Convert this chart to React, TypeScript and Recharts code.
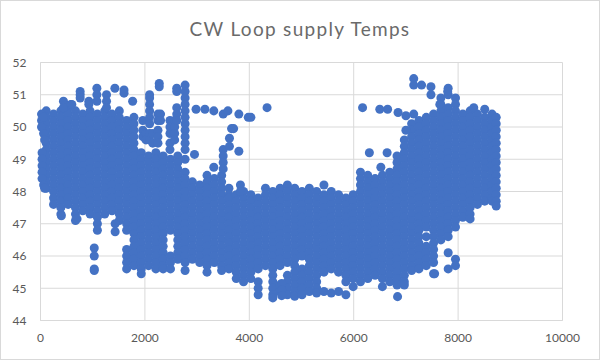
import React from "react";
import { ScatterChart, Scatter, XAxis, YAxis, ZAxis, CartesianGrid } from "recharts";

const TITLE = "CW Loop supply Temps";
const xTicks = [0, 2000, 4000, 6000, 8000, 10000];
const yTicks = [44, 45, 46, 47, 48, 49, 50, 51, 52];

// Hours sampled across the year, one column of readings per entry.
const columnX = [
  110, 250, 390, 530, 670, 810, 950, 1090, 1230, 1370, 1510, 1650, 1790, 1930, 2070, 2210, 2350, 2490, 2630, 2770,
  2910, 3050, 3190, 3330, 3470, 3610, 3750, 3890, 4030, 4170, 4310, 4450, 4590, 4730, 4870, 5010, 5150, 5290, 5430,
  5570, 5710, 5850, 5990, 6130, 6270, 6410, 6550, 6690, 6830, 6970, 7110, 7250, 7390, 7530, 7670, 7810, 7950, 8090,
  8230, 8370, 8510, 8650, 8730,
];

const columnY = [
  [50.5, 50.3, 50.1, 49.9, 49.7, 49.5, 49.3, 49.1, 48.9, 48.7, 48.5, 48.3, 48.1],
  [50.4, 50.2, 50, 49.8, 49.6, 49.4, 49.2, 49, 48.8, 48.6, 48.4, 48.2, 48, 47.8, 47.6],
  [50.5, 50.3, 50.1, 49.9, 49.7, 49.5, 49.3, 49.1, 48.9, 48.7, 48.5, 48.3, 48.1, 47.9, 47.7, 47.5, 47.3],
  [50.6, 50.4, 50.2, 50, 49.8, 49.6, 49.4, 49.2, 49, 48.8, 48.6, 48.4, 48.2, 48, 47.8, 47.6],
  [50.5, 50.3, 50.1, 49.9, 49.7, 49.5, 49.3, 49.1, 48.9, 48.7, 48.5, 48.3, 48.1, 47.9, 47.7, 47.5, 47.3, 47.1],
  [50.4, 50.2, 50, 49.8, 49.6, 49.4, 49.2, 49, 48.8, 48.6, 48.4, 48.2, 48, 47.8, 47.6, 47.4],
  [50.5, 50.3, 50.1, 49.9, 49.7, 49.5, 49.3, 49.1, 48.9, 48.7, 48.5, 48.3, 48.1, 47.9, 47.7, 47.5, 47.3],
  [50.4, 50.2, 50, 49.8, 49.6, 49.4, 49.2, 49, 48.8, 48.6, 48.4, 48.2, 48, 47.8, 47.6, 47.4, 47.2, 47, 46.8],
  [50.5, 50.3, 50.1, 49.9, 49.7, 49.5, 49.3, 49.1, 48.9, 48.7, 48.5, 48.3, 48.1, 47.9, 47.7, 47.5, 47.3],
  [50.4, 50.2, 50, 49.8, 49.6, 49.4, 49.2, 49, 48.8, 48.6, 48.4, 48.2, 48, 47.8, 47.6, 47.4],
  [50.5, 50.3, 50.1, 49.9, 49.7, 49.5, 49.3, 49.1, 48.9, 48.7, 48.5, 48.3, 48.1, 47.9, 47.7, 47.5, 47.3, 47.1],
  [50.2, 50, 49.8, 49.6, 49.4, 49.2, 49, 48.8, 48.6, 48.4, 48.2, 48, 47.8, 47.6, 47.4, 47.2, 47, 46.8, 46.2, 46, 45.8, 45.6],
  [50.3, 50.1, 49.9, 49.7, 49.5, 49.3, 49.1, 48.9, 48.7, 48.5, 48.3, 48.1, 47.9, 47.7, 47.5, 47.3, 47.1, 46.9, 46.7, 46.5, 46.3, 46.1, 45.9, 45.7],
  [49.2, 49, 48.8, 48.6, 48.4, 48.2, 48, 47.8, 47.6, 47.4, 47.2, 47, 46.8, 46.6, 46.4, 46.2, 46, 45.8, 45.6, 45.45],
  [49.1, 48.9, 48.7, 48.5, 48.3, 48.1, 47.9, 47.7, 47.5, 47.3, 47.1, 46.9, 46.7, 46.5, 46.3, 46.1, 45.9, 45.7],
  [49.2, 49, 48.8, 48.6, 48.4, 48.2, 48, 47.8, 47.6, 47.4, 47.2, 47, 46.8, 46.6, 46.4, 46.2, 46, 45.8, 45.6],
  [49.1, 48.9, 48.7, 48.5, 48.3, 48.1, 47.9, 47.7, 47.5, 47.3, 47.1, 46.9, 46.7, 46.5, 46.3, 46.1, 45.9, 45.7, 45.6],
  [49, 48.8, 48.6, 48.4, 48.2, 48, 47.8, 47.6, 47.4, 47.2, 47, 46.8, 46, 45.8, 45.6],
  [49.1, 48.9, 48.7, 48.5, 48.3, 48.1, 47.9, 47.7, 47.5, 47.3, 47.1, 46.9, 46.7, 46.5, 46.3, 46.1, 45.9],
  [48.6, 48.4, 48.2, 48, 47.8, 47.6, 47.4, 47.2, 47, 46.8, 46.6, 46.4, 46.2, 46, 45.8, 45.55],
  [48.3, 48.1, 47.9, 47.7, 47.5, 47.3, 47.1, 46.9, 46.7, 46.5, 46.3, 46.1, 45.9],
  [48.2, 48, 47.8, 47.6, 47.4, 47.2, 47, 46.8, 46.6, 46.4, 46.2, 46, 45.8],
  [48.5, 48.3, 48.1, 47.9, 47.7, 47.5, 47.3, 47.1, 46.9, 46.7, 46.5, 46.3, 46.1, 45.9, 45.7, 45.5],
  [48.4, 48.2, 48, 47.8, 47.6, 47.4, 47.2, 47, 46.8, 46.6, 46.4, 46.2, 46, 45.8],
  [48.5, 48.3, 48.1, 47.9, 47.7, 47.5, 47.3, 47.1, 46.9, 46.7, 46.5, 46.3, 46.1, 45.9, 45.7, 45.55],
  [48.1, 47.9, 47.8, 47.6, 47.4, 47.2, 47, 46.8, 46.6, 46.4, 46.2, 46, 45.8, 45.6],
  [47.9, 47.7, 47.5, 47.3, 47.1, 46.9, 46.7, 46.5, 46.3, 46.1, 45.9, 45.7, 45.5, 45.3],
  [48, 47.8, 47.6, 47.4, 47.2, 47, 46.8, 46.6, 46.4, 46.2, 46, 45.8, 45.6, 45.4, 45.2],
  [47.9, 47.7, 47.5, 47.3, 47.1, 46.9, 46.7, 46.5, 46.3, 46.1, 45.9, 45.7, 45.5, 45.3],
  [47.8, 47.6, 47.4, 47.2, 47, 46.8, 46.6, 46.4, 46.2, 46, 45.8, 45.6, 45.2, 45, 44.8],
  [48.1, 47.9, 47.7, 47.5, 47.3, 47.1, 46.9, 46.7, 46.5, 46.3, 46.1, 45.9, 45.7],
  [48, 47.8, 47.6, 47.4, 47.2, 47, 46.8, 46.6, 46.4, 46.2, 46, 45.8, 45.6, 45.4, 45.2, 45, 44.8, 44.7],
  [48.1, 47.9, 47.7, 47.5, 47.3, 47.1, 46.9, 46.7, 46.5, 46.3, 46.1, 45.9, 45.7, 45.1, 44.9],
  [48.2, 48, 47.8, 47.6, 47.4, 47.2, 47, 46.8, 46.6, 46.4, 46.2, 46, 45.8, 45.4, 45.2, 45, 44.8],
  [48.1, 47.9, 47.7, 47.5, 47.3, 47.1, 46.9, 46.7, 46.5, 46.3, 46.1, 45.9, 45.7, 45.5, 45.3, 45.1, 44.9, 44.75],
  [48, 47.8, 47.6, 47.4, 47.2, 47, 46.8, 46.6, 46.4, 46.2, 46, 45.6, 45.4, 45.2, 45, 44.8],
  [48.1, 47.9, 47.7, 47.5, 47.3, 47.1, 46.9, 46.7, 46.5, 46.3, 46.1, 45.9, 45.7, 45.5, 45.3, 45.1, 44.9],
  [48, 47.8, 47.6, 47.4, 47.2, 47, 46.8, 46.6, 46.4, 46.2, 46, 45.8, 45.6, 45.4, 45.2, 45, 44.85],
  [48.2, 47.9, 47.7, 47.5, 47.3, 47.1, 46.9, 46.7, 46.5, 46.3, 46.1, 45.9, 45.7, 45.5, 44.9],
  [48, 47.8, 47.6, 47.4, 47.2, 47, 46.8, 46.6, 46.4, 46.2, 46, 45.8, 45.6, 44.85],
  [47.9, 47.7, 47.5, 47.3, 47.1, 46.9, 46.7, 46.5, 46.3, 46.1, 45.9, 45.7, 45.5, 44.9],
  [47.8, 47.6, 47.4, 47.2, 47, 46.8, 46.6, 46.4, 46.2, 46, 45.8, 45.6, 45.4, 45.2, 44.8],
  [47.9, 47.7, 47.5, 47.3, 47.1, 46.9, 46.7, 46.5, 46.3, 46.1, 45.9, 45.7, 45.5, 45.3, 45.05],
  [48.6, 48.4, 48.2, 48, 47.8, 47.6, 47.4, 47.2, 47, 46.8, 46.6, 46.4, 46.2, 46, 45.8, 45.6, 45.4, 45.2],
  [48.5, 48.3, 48.1, 47.9, 47.7, 47.5, 47.3, 47.1, 46.9, 46.7, 46.5, 46.3, 46.1, 45.9, 45.7, 45.5, 45.3],
  [48.4, 48.2, 48, 47.8, 47.6, 47.4, 47.2, 47, 46.8, 46.6, 46.4, 46.2, 46, 45.8, 45.6, 45.4],
  [48.5, 48.3, 48.1, 47.9, 47.7, 47.5, 47.3, 47.1, 46.9, 46.7, 46.5, 46.3, 46.1, 45.9, 45.7, 45.5, 45.3, 45.05],
  [48.6, 48.4, 48.2, 48, 47.8, 47.6, 47.4, 47.2, 47, 46.8, 46.6, 46.4, 46.2, 46, 45.8, 45.6, 45.4, 45.2],
  [49.1, 48.9, 48.7, 48.5, 48.3, 48.1, 47.9, 47.7, 47.5, 47.3, 47.1, 46.9, 46.7, 46.5, 46.3, 46.1, 45.9, 45.7, 45.5, 45.3, 45.1],
  [49.6, 49.4, 49.2, 49, 48.8, 48.6, 48.4, 48.2, 48, 47.8, 47.6, 47.4, 47.2, 47, 46.8, 46.6, 46.4, 46.2, 46, 45.8, 45.6, 45.4, 45.2, 45.1],
  [50.1, 49.9, 49.7, 49.5, 49.3, 49.1, 48.9, 48.7, 48.5, 48.3, 48.1, 47.9, 47.7, 47.5, 47.3, 47.1, 46.9, 46.7, 46.5, 46.3, 46.1, 45.9, 45.7, 45.55],
  [50.2, 50, 49.8, 49.6, 49.4, 49.2, 49, 48.8, 48.6, 48.4, 48.2, 48, 47.8, 47.6, 47.4, 47.2, 47, 46.8, 46.6, 46.4, 46.2, 46, 45.8, 45.6],
  [50.3, 50.1, 49.9, 49.7, 49.5, 49.3, 49.1, 48.9, 48.7, 48.5, 48.3, 48.1, 47.9, 47.7, 47.5, 47.3, 47.1, 46.9, 46.6, 46.3, 46.1, 45.9, 45.7],
  [50.4, 50.2, 50, 49.8, 49.6, 49.4, 49.2, 49, 48.8, 48.6, 48.4, 48.2, 48, 47.8, 47.6, 47.4, 47.2, 47, 46.8, 46.6, 46.4, 46.2, 46, 45.8, 45.45],
  [50.9, 50.7, 50.5, 50.3, 50.1, 49.9, 49.7, 49.5, 49.3, 49.1, 48.9, 48.7, 48.5, 48.3, 48.1, 47.9, 47.7, 47.5, 47.3, 47.1, 46.9, 46.7, 46.5],
  [51.2, 51, 50.6, 50.4, 50.2, 50, 49.8, 49.6, 49.4, 49.2, 49, 48.8, 48.6, 48.4, 48.2, 48, 47.8, 47.6, 47.4, 47.2, 47, 46.8, 46.6, 46.1, 45.6],
  [50.9, 50.7, 50.5, 50.3, 50.1, 49.9, 49.7, 49.5, 49.3, 49.1, 48.9, 48.7, 48.5, 48.3, 48.1, 47.9, 47.7, 47.5, 47.3, 47.1, 46.9, 45.9, 45.7],
  [50.4, 50.2, 50, 49.8, 49.6, 49.4, 49.2, 49, 48.8, 48.6, 48.4, 48.2, 48, 47.8, 47.6, 47.4, 47.2],
  [50.5, 50.3, 50.1, 49.9, 49.7, 49.5, 49.3, 49.1, 48.9, 48.7, 48.5, 48.3, 48.1, 47.9, 47.7, 47.5, 47.3, 47.15],
  [50.4, 50.2, 50, 49.8, 49.6, 49.4, 49.2, 49, 48.8, 48.6, 48.4, 48.2, 48, 47.8, 47.6],
  [50.55, 50.3, 50.1, 49.9, 49.7, 49.5, 49.3, 49.1, 48.9, 48.7, 48.5, 48.3, 48.1, 47.9, 47.7],
  [50.4, 50.2, 50, 49.8, 49.6, 49.4, 49.2, 49, 48.8, 48.6, 48.4, 48.2, 48, 47.8, 47.7],
  [50.3, 50.1, 49.9, 49.7, 49.5, 49.3, 49.1, 48.9, 48.7, 48.5, 48.3, 48.1, 47.9, 47.7, 47.55],
];

// Readings that stand apart from the main mass, plus the edges of the mass.
const strayX = [
  20, 20, 20, 30, 30, 30, 30, 30, 60, 60, 60, 80, 80, 440, 440, 400, 580, 600, 700,
  760, 760, 760, 926, 926, 1030, 1030, 1030, 1030, 1080, 1080, 1080, 1265, 1265, 1265, 1425, 1430, 1430, 1600, 1600, 1765,
  1960, 1960, 1960, 2020, 2020, 2090, 2090, 2090, 2090, 2090, 2090, 2090, 2090, 2150, 2150, 2250, 2250, 2250, 2250, 2250,
  2275, 2275, 2300, 2300, 2480, 2480, 2480, 2480, 2480, 2570, 2570, 2570, 2570, 2610, 2610, 2610, 2610, 2610,
  2770, 2770, 2770, 2770, 2770, 2770, 2770, 2770, 2770, 2770, 2770, 2770, 2950, 2980, 3150, 3320, 3320,
  3500, 3500, 3500, 3500, 3500, 3590, 3620, 3620, 3660, 3700, 3800, 3800, 3830, 3830, 3980, 4030, 4340, 4620, 4620, 4620,
  6170, 6300, 6500, 6520, 6640, 6650, 6850, 6840, 7000, 7000, 7150, 7150, 7150, 7300, 7480, 7480, 7550, 7650, 7800, 8300,
];
const strayY = [
  50.4, 50.2, 50, 49.2, 49, 48.8, 48.6, 48.4, 50.3, 49.8, 48.2, 49.6, 48.1, 50.8, 50.6, 47.25, 50.7, 50.7, 47.15,
  51.1, 51, 50.9, 50.8, 50.7, 46.25, 46, 45.6, 45.55, 51.2, 51, 50.8, 51, 50.8, 50.6, 51.2, 47, 46.75, 51.15, 51.05, 50.8,
  50.2, 49.9, 49.7, 49.8, 49.6, 51, 50.9, 50.7, 50.5, 50.3, 50.1, 49.8, 49.6, 49.8, 49.5, 50.4, 50.2, 49.9, 49.7, 49.5,
  51.35, 51.25, 50.4, 50.2, 50.2, 50, 49.8, 49.5, 49.3, 50.2, 50, 49.8, 49.6, 51.2, 51.1, 50.6, 50.4, 50.2,
  51.3, 51.1, 50.9, 50.7, 50.5, 50.3, 50.1, 49.9, 49.7, 49.5, 49.3, 49, 49.15, 50.55, 50.55, 50.5, 48.75,
  50.4, 49.3, 49.1, 48.9, 48.7, 50.5, 49.65, 49.4, 49.95, 49.95, 50.4, 49.25, 48.2, 48, 50.3, 50.3, 50.6, 45.15, 44.95, 44.77,
  50.6, 49.2, 50.55, 48.75, 49.2, 50.55, 50.45, 44.74, 50.35, 49.9, 51.5, 51.3, 50.4, 51.3, 51.25, 51, 45.45, 50.7, 51.1, 50.6,
];

const readings = [
  ...columnX.flatMap((x, i) => columnY[i].map((y) => ({ x, y }))),
  ...strayX.map((x, i) => ({ x, y: strayY[i] })),
];

const tickStyle = { fill: "#595959", fontSize: 12, fontFamily: "Lato" };

export default function App() {
  return (
    <div
      style={{
        position: "absolute",
        left: 0,
        top: 0,
        width: 600,
        height: 360,
        boxSizing: "border-box",
        border: "1px solid #d9d9d9",
        background: "#fff",
      }}
    >
      <div
        style={{
          position: "absolute",
          left: 0,
          top: 16,
          width: 598,
          textAlign: "center",
          fontFamily: "Lato",
          fontWeight: 400,
          fontSize: 19,
          letterSpacing: 1.3,
          color: "#6a6a6a",
        }}
      >
        {TITLE}
      </div>
      <div style={{ position: "absolute", left: -1, top: -1 }}>
        <ScatterChart width={600} height={360} margin={{ top: 62.5, right: 37.5, bottom: 0, left: 0.5 }}>
          <CartesianGrid stroke="#d9d9d9" strokeWidth={1} verticalValues={xTicks} horizontalValues={yTicks} />
          <XAxis
            type="number"
            dataKey="x"
            domain={[0, 10000]}
            ticks={xTicks}
            height={39.5}
            stroke="#d9d9d9"
            tickLine={false}
            tickSize={0}
            tickMargin={13}
            tick={tickStyle}
            interval={0}
          />
          <YAxis
            type="number"
            dataKey="y"
            domain={[44, 52]}
            ticks={yTicks}
            width={40}
            stroke="#d9d9d9"
            tickLine={false}
            tickSize={0}
            tickMargin={14}
            tick={tickStyle}
            interval={0}
          />
          <ZAxis range={[70, 70]} />
          <Scatter data={readings} fill="#4472c4" isAnimationActive={false} />
        </ScatterChart>
      </div>
    </div>
  );
}
